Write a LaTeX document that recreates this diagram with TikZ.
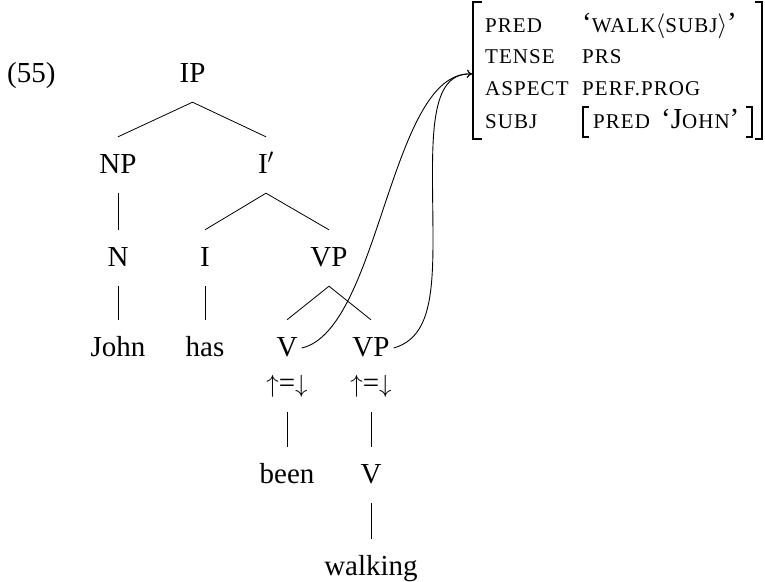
\documentclass[tikz,border=0pt]{standalone}
\usepackage{fontspec}
\setmainfont{Liberation Serif}
\newfontfamily\scfont[LetterSpace=5]{Liberation Serif}
\usetikzlibrary{arrows.meta}
\newcommand\fsc[1]{{\scfont\fontsize{21}{25}\selectfont #1}}
\tikzset{
  cat/.style={anchor=base, text height=21pt, text depth=5pt, inner ysep=15pt, inner xsep=4pt},
  edge/.style={line width=0.8pt},
  avm/.style={anchor=base west, inner sep=0pt},
  brk/.style={line width=1.4pt, line cap=butt},
  link/.style={line width=0.9pt, -{To[length=5pt,width=8pt]}}
}
\begin{document}
\begin{tikzpicture}[x=1pt, y=-1pt, font=\fontsize{29}{35}\selectfont]
\useasboundingbox (0,0) rectangle (765,581);
% example number
\node[avm] (num) at (7,82) {(55)};
% tree
\node[cat] (IP) at (192.5,82) {IP};
\node[cat] (NP) at (118,173) {NP};
\node[cat] (Ibar) at (266,173) {I$'$};
\node[cat] (N) at (118,266) {N};
\node[cat] (I) at (205,266) {I};
\node[cat] (VP) at (329,266) {VP};
\node[cat] (John) at (118,356) {John};
\node[cat] (has) at (205,356) {has};
\node[cat] (V) at (287,356) {V};
\node[cat] (VPb) at (371,356) {VP};
\node[cat] (annV) at (287,392) {$\uparrow$=$\downarrow$};
\node[cat] (annVP) at (371,392) {$\uparrow$=$\downarrow$};
\node[cat] (been) at (287,483) {been};
\node[cat] (Vb) at (371,483) {V};
\node[cat] (walking) at (371,575) {walking};
\draw[edge] (NP.north) -- (IP.south) -- (Ibar.north);
\draw[edge] (NP.south) -- (N.north);
\draw[edge] (I.north) -- (Ibar.south) -- (VP.north);
\draw[edge] (N.south) -- (John.north);
\draw[edge] (I.south) -- (has.north);
\draw[edge] (V.north) -- (VP.south) -- (VPb.north);
\draw[edge] (annV.south) -- (been.north);
\draw[edge] (annVP.south) -- (Vb.north);
\draw[edge] (Vb.south) -- (walking.north);
% f-structure
\coordinate (fs) at (472,74);
\draw[brk] (482,2) -- (473,2) -- (473,139) -- (482,139);
\draw[brk] (755,2) -- (762,2) -- (762,139) -- (755,139);
\node[avm] (a1) at (485,32) {\fsc{PRED}};
\node[avm] (v1) at (582,32) {‘\fsc{WALK}$\langle$\fsc{SUBJ}$\rangle$’};
\node[avm] (a2) at (485,63) {\fsc{TENSE}};
\node[avm] (v2) at (582,63) {\fsc{PRS}};
\node[avm] (a3) at (485,95) {\fsc{ASPECT}};
\node[avm] (v3) at (582,95) {\fsc{PERF.PROG}};
\node[avm] (a4) at (485,128) {\fsc{SUBJ}};
\draw[brk, line width=1.2pt] (589,107) -- (583,107) -- (583,137) -- (589,137);
\draw[brk, line width=1.2pt] (746,107) -- (752,107) -- (752,137) -- (746,137);
\node[avm] (b1) at (593,128) {\fsc{PRED}};
\node[avm] (c1) at (661,128) {‘J\fsc{OHN}’};
% links
\draw[link] (V.east) .. controls (380,330) and (390,70) .. (fs);
\draw[link] (VPb.east) .. controls (428,338) and (433,300) .. (433,240) .. controls (433,150) and (425,72) .. (fs);
\end{tikzpicture}
\end{document}
